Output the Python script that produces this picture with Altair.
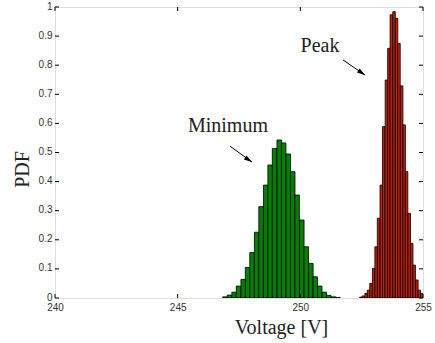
import altair as alt
import pandas as pd

# Histogram of the "Minimum" voltage (green)
green_centers = [246.93, 247.11, 247.30, 247.48, 247.67, 247.85, 248.03, 248.22, 248.40,
                 248.59, 248.77, 248.95, 249.14, 249.32, 249.51, 249.69, 249.87, 250.06,
                 250.24, 250.43, 250.61, 250.79, 250.98, 251.16, 251.35, 251.53]
green_pdf = [0.004, 0.010, 0.020, 0.041, 0.064, 0.105, 0.156, 0.226, 0.314,
             0.388, 0.457, 0.514, 0.543, 0.533, 0.495, 0.434, 0.354, 0.268,
             0.176, 0.119, 0.073, 0.041, 0.020, 0.009, 0.004, 0.002]
GREEN_W = 0.184

# Histogram of the "Peak" voltage (red)
red_centers = [252.47, 252.57, 252.68, 252.78, 252.88, 252.99, 253.09, 253.19, 253.30,
               253.40, 253.51, 253.61, 253.71, 253.82, 253.92, 254.02, 254.13, 254.23,
               254.33, 254.44, 254.54, 254.64, 254.75, 254.85, 254.95]
red_pdf = [0.003, 0.007, 0.016, 0.027, 0.050, 0.102, 0.176, 0.274, 0.388,
           0.589, 0.749, 0.858, 0.973, 0.984, 0.961, 0.875, 0.729, 0.595,
           0.434, 0.291, 0.188, 0.113, 0.062, 0.027, 0.016]
RED_W = 0.1035

x_ticks = [240, 245, 250, 255]
y_ticks = [0, 0.1, 0.2, 0.3, 0.4, 0.5, 0.6, 0.7, 0.8, 0.9, 1]

labels = ["Minimum", "Peak"]
label_x = [247.05, 250.80]
label_y = [0.571, 0.844]
arrow_x = [247.13, 251.74]
arrow_y = [0.522, 0.818]
arrow_x2 = [248.03, 252.64]
arrow_y2 = [0.467, 0.766]

rows = []
for c, h in zip(green_centers, green_pdf):
    rows.append(dict(x=c - GREEN_W / 2, x2=c + GREEN_W / 2, y=h, s="Minimum"))
for c, h in zip(red_centers, red_pdf):
    rows.append(dict(x=c - RED_W / 2, x2=c + RED_W / 2, y=h, s="Peak"))
bars_df = pd.DataFrame(rows)

ann_df = pd.DataFrame(dict(label=labels, lx=label_x, ly=label_y,
                           ax=arrow_x, ay=arrow_y, ax2=arrow_x2, ay2=arrow_y2))

W, H = 368, 291
xs = alt.Scale(domain=[240, 255], nice=False, zero=False)
ys = alt.Scale(domain=[0, 1], nice=False)

LABEL_FONT = "Liberation Sans"
SERIF = "Liberation Serif"

x_axis = alt.Axis(
    values=x_ticks, ticks=False, domain=False, grid=False,
    labelFont=LABEL_FONT, labelFontSize=10, labelColor="#333", labelPadding=4,
    labelOverlap=False, labelFlush=False,
    title="Voltage [V]", titleFont=SERIF, titleFontSize=20, titleFontWeight="normal",
    titleColor="#222", titleX=226, titleY=35, titleAlign="center",
    titleBaseline="alphabetic")
y_axis = alt.Axis(
    values=y_ticks, format="~g", ticks=False, domain=False, grid=False,
    labelFont=LABEL_FONT, labelFontSize=10, labelColor="#333", labelPadding=3,
    labelOverlap=False, labelFlush=False, labelOffset=-1,
    title="PDF", titleFont=SERIF, titleFontSize=20, titleFontWeight="normal",
    titleColor="#222", titleX=-27, titleY=162, titleAlign="center",
    titleBaseline="alphabetic", titleAngle=270)


def X(field):
    return alt.X(field, scale=xs, axis=x_axis, title="Voltage [V]")


def Y(field):
    return alt.Y(field, scale=ys, axis=y_axis, title="PDF")


bars = alt.Chart(bars_df).mark_bar(stroke="black", strokeWidth=0.8, clip=True).encode(
    x=X("x:Q"),
    x2="x2:Q",
    y=Y("y:Q"),
    y2=alt.datum(0),
    color=alt.Color("s:N", scale=alt.Scale(domain=["Minimum", "Peak"],
                                          range=["#008000", "#c02000"]), legend=None),
)

yt_df = pd.DataFrame(dict(v=y_ticks))
xt_df = pd.DataFrame(dict(v=x_ticks))

ytl = alt.Chart(yt_df).mark_rule(color="black", strokeWidth=1).encode(
    y=Y("v:Q"), x=alt.value(0), x2=alt.value(4))
ytr = alt.Chart(yt_df).mark_rule(color="black", strokeWidth=1).encode(
    y=Y("v:Q"), x=alt.value(W - 4), x2=alt.value(W))
xtb = alt.Chart(xt_df).mark_rule(color="black", strokeWidth=1).encode(
    x=X("v:Q"), y=alt.value(H), y2=alt.value(H - 4))
xtt = alt.Chart(xt_df).mark_rule(color="black", strokeWidth=1).encode(
    x=X("v:Q"), y=alt.value(0), y2=alt.value(4))

text = alt.Chart(ann_df).mark_text(font=SERIF, fontSize=20, color="#222",
                                   align="center", baseline="alphabetic").encode(
    x=X("lx:Q"), y=Y("ly:Q"), text="label:N")

arrow_line = alt.Chart(ann_df).mark_rule(color="black", strokeWidth=1).encode(
    x=X("ax:Q"), y=Y("ay:Q"), x2="ax2:Q", y2="ay2:Q")

arrow_head = alt.Chart(ann_df).mark_point(
    shape="M0,0L-0.4,1.4L0.4,1.4Z", filled=True, color="black", opacity=1,
    size=140, angle=124, strokeWidth=0).encode(
    x=X("ax2:Q"), y=Y("ay2:Q"))

chart = alt.layer(bars, ytl, ytr, xtb, xtt, arrow_line, arrow_head, text).properties(
    width=W, height=H,
    autosize=alt.AutoSizeParams(type="none"),
    padding={"left": 55, "top": 7, "right": 12, "bottom": 45},
).configure_view(stroke="black", strokeWidth=1).configure_axis(
    labelOverlap=False, labelFlush=False
).configure(background="white")

chart.save("out.html", embed_options={"renderer": "svg", "actions": False})
